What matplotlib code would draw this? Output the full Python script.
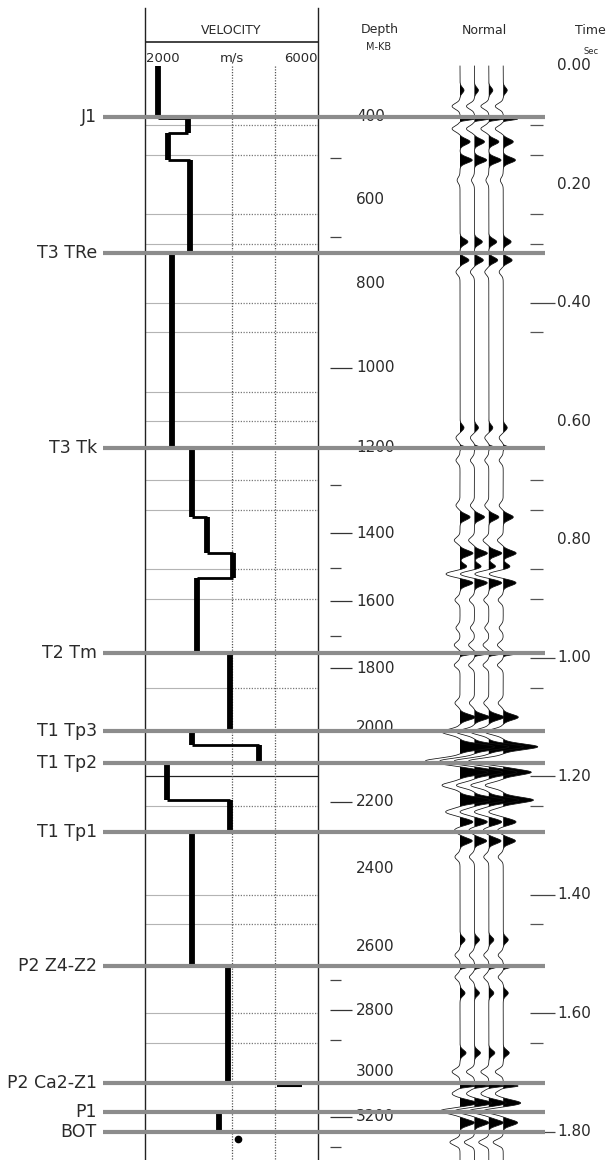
import numpy as np
import matplotlib.pyplot as plt

# figure layout (pixels) and time scale
W, H = 616, 1160
Y0 = 66.0          # pixel row of t = 0
PX_PER_S = 592.0   # pixels per second


def t_px(y):
    return (y - Y0) / PX_PER_S


# horizons, two-way time in s
horizon_names = ['J1', 'T3 TRe', 'T3 Tk', 'T2 Tm', 'T1 Tp3', 'T1 Tp2', 'T1 Tp1',
                 'P2 Z4-Z2', 'P2 Ca2-Z1', 'P1', 'BOT']
horizon_time = [0.086, 0.316, 0.645, 0.992, 1.123, 1.177, 1.294,
                1.520, 1.718, 1.767, 1.801]

# interval velocity log (m/s), layer boundaries in time
vel_bounds = [0.0, 0.088, 0.113, 0.159, 0.316, 0.645, 0.762, 0.823, 0.865,
              0.992, 1.122, 1.147, 1.177, 1.240, 1.294, 1.520, 1.716]
vel_values = [2300, 3000, 2530, 3040, 2625, 3090, 3430, 4030, 3200,
              3965, 3090, 4640, 2510, 3965, 3090, 3920]
bot_layer = (1.769, 1.797, 3700)
stub_t, stub_v = 1.723, (5050, 5630)
dot_t, dot_v = 1.8125, 4150

vel_grid_t = [0.10, 0.15, 0.25, 0.30, 0.40, 0.45, 0.55, 0.60, 0.70, 0.75,
              0.85, 0.90, 1.05, 1.25, 1.40, 1.45, 1.60, 1.65]
vel_black_t = 1.20

# depth column
depth_major = [400, 600, 800, 1000, 1200, 1400, 1600, 1800, 2000, 2200,
               2400, 2600, 2800, 3000, 3200]
depth_major_t = [0.086, 0.226, 0.367, 0.510, 0.645, 0.789, 0.904, 1.017,
                 1.117, 1.243, 1.355, 1.488, 1.595, 1.699, 1.775]
depth_dash = [1000, 1200, 1400, 1600, 1800, 2200, 2800, 3200]
depth_minor_t = [0.155, 0.289, 0.708, 0.848, 0.963, 1.544, 1.645, 1.826]

# time column
time_major = [0.0, 0.2, 0.4, 0.6, 0.8, 1.0, 1.2, 1.4, 1.6, 1.8]
time_dash = [0.4, 1.0, 1.2, 1.4, 1.6, 1.8]
time_minor = [0.10, 0.15, 0.25, 0.30, 0.45, 0.70, 0.75, 0.85, 0.90,
              1.05, 1.25, 1.45, 1.65]

# synthetic trace events: time (s), amplitude (trace spacings), sharp flag
ev_t = [0.041, 0.068, 0.0895, 0.106, 0.128, 0.159, 0.193, 0.297, 0.328, 0.348,
        0.611, 0.628, 0.644, 0.666, 0.742, 0.762, 0.801, 0.823, 0.846, 0.858,
        0.873, 0.902, 0.949, 0.978, 0.993, 1.012, 1.076, 1.100, 1.125, 1.150,
        1.174, 1.193, 1.215, 1.240, 1.260, 1.277, 1.291, 1.309, 1.336, 1.476,
        1.502, 1.522, 1.539, 1.566, 1.667, 1.699, 1.723, 1.736, 1.752, 1.765,
        1.785, 1.818]
ev_a = [0.28, -0.55, 1.0, -0.55, 0.7, 0.85, -0.2, 0.55, 0.62, -0.28,
        0.28, -0.28, 0.4, -0.28, -0.28, 0.7, -0.4, 0.9, 0.5, -1.0,
        0.9, -0.35, -0.28, -0.4, 0.85, -0.4, -0.35, 1.05, -1.25, 2.4,
        -2.4, 1.95, -1.25, 2.1, -1.0, 0.9, -0.4, 0.85, -0.35, 0.35,
        -0.35, 0.55, -0.35, 0.35, 0.42, -0.55, 1.05, -0.55, 1.25, -1.4,
        1.0, -0.7]
ev_sharp = [0, 0, 1, 0, 0, 0, 0, 0, 0, 0,
            0, 0, 1, 0, 0, 0, 0, 0, 0, 0,
            0, 0, 0, 0, 1, 0, 0, 0, 0, 0,
            0, 0, 0, 0, 0, 0, 0, 0, 0, 0,
            0, 1, 0, 0, 0, 0, 1, 0, 0, 0,
            0, 0]
n_traces = 4

TXT = '#2a2a2a'
HZ = '#8c8c8c'

fig = plt.figure(figsize=(W / 100, H / 100), dpi=100)


def add_px_axes(x0, y0, x1, y1):
    ax = fig.add_axes([x0 / W, 1 - y1 / H, (x1 - x0) / W, (y1 - y0) / H])
    ax.set_ylim(t_px(y1), t_px(y0))
    return ax


# ---- velocity track
vax = add_px_axes(145, 8, 318, H)
vax.set_xlim(2000, 6000)
vax.set_xticks([])
vax.set_yticks([])
for s in ['top', 'bottom']:
    vax.spines[s].set_visible(False)
for s in ['left', 'right']:
    vax.spines[s].set_linewidth(1.0)
    vax.spines[s].set_color('#222222')

x_mid = 4000
for t in vel_grid_t:
    vax.hlines(t, 2000, x_mid, color='#b4b4b4', lw=0.8, zorder=1)
    vax.hlines(t, x_mid, 6000, color='#777777', lw=0.9, ls=(0, (1, 1.2)), zorder=1)
vax.hlines(vel_black_t, 2000, 6000, color='#222222', lw=0.9, zorder=1)
vax.vlines([4000, 5000], 0, t_px(H), color='#555555', lw=0.9, ls=(0, (1, 1.2)), zorder=1)

vax.hlines(t_px(42), 2000, 6000, color='#222222', lw=1.2)
vax.text(4000, t_px(31), 'VELOCITY', ha='center', va='center', fontsize=9, color=TXT)
vax.text(2020, t_px(58), '2000', ha='left', va='center', fontsize=9.5, color=TXT)
vax.text(4000, t_px(58), 'm/s', ha='center', va='center', fontsize=9.5, color=TXT)
vax.text(5980, t_px(58), '6000', ha='right', va='center', fontsize=9.5, color=TXT)

vax.vlines(vel_values, vel_bounds[:-1], vel_bounds[1:], color='black', lw=4.2,
           zorder=3)
for i in range(1, len(vel_values)):
    vax.hlines(vel_bounds[i], vel_values[i - 1], vel_values[i], color='black',
               lw=2.0, zorder=3)
vax.vlines(bot_layer[2], bot_layer[0], bot_layer[1], color='black', lw=4.2, zorder=3)
vax.hlines(stub_t, stub_v[0], stub_v[1], color='black', lw=1.5, zorder=3)
vax.plot([dot_v], [dot_t], 'o', color='black', ms=4.5, zorder=3)

# ---- synthetic traces
tax = add_px_axes(420, 0, 580, H)
spacing = 14.4
tax.set_xlim(1 + (420 - 460) / spacing, 1 + (580 - 460) / spacing)
tax.axis('off')
tt = np.arange(0.0, t_px(H), 0.0004)
sig = np.zeros_like(tt)
for t0, a, sh in zip(ev_t, ev_a, ev_sharp):
    w = 0.0028 if sh else 0.0068
    sig += a * np.exp(-((tt - t0) / w) ** 2)
for k in range(1, n_traces + 1):
    tax.fill_betweenx(tt, k, k + sig, where=sig > 0, color='black', lw=0,
                      interpolate=True)
    tax.plot(k + sig, tt, color='#111111', lw=0.55)

# ---- depth / time columns, horizons (drawn on top)
bax = add_px_axes(0, 0, W, H)
bax.set_xlim(0, W)
bax.axis('off')
bax.set_zorder(5)

bax.text(380, t_px(30), 'Depth', ha='center', va='center', fontsize=9, color=TXT)
bax.text(379, t_px(47), 'M-KB', ha='center', va='center', fontsize=7, color=TXT)
bax.text(484, t_px(30), 'Normal', ha='center', va='center', fontsize=9, color=TXT)
bax.text(590, t_px(30), 'Time', ha='center', va='center', fontsize=9, color=TXT)
bax.text(591, t_px(52), 'Sec', ha='center', va='center', fontsize=6, color=TXT)

for d, t in zip(depth_major, depth_major_t):
    bax.text(356, t, str(d), ha='left', va='center', fontsize=11, color=TXT)
    if d in depth_dash:
        bax.hlines(t, 330, 352, color='#333333', lw=0.9)
bax.hlines(depth_minor_t, 330, 341, color='#444444', lw=0.9)

for t in time_major:
    bax.text(557, t, '%.2f' % t, ha='left', va='center', fontsize=11, color=TXT)
    if t in time_dash:
        bax.hlines(t, 530, 555, color='#444444', lw=0.9)
bax.hlines(time_minor, 530, 543, color='#555555', lw=0.9)

bax.hlines(horizon_time, 103, 545, color=HZ, lw=3.0, zorder=4)
for name, t in zip(horizon_names, horizon_time):
    bax.text(97, t, name, ha='right', va='center', fontsize=12.5, color=TXT)

fig.savefig('out.png', dpi=100)
